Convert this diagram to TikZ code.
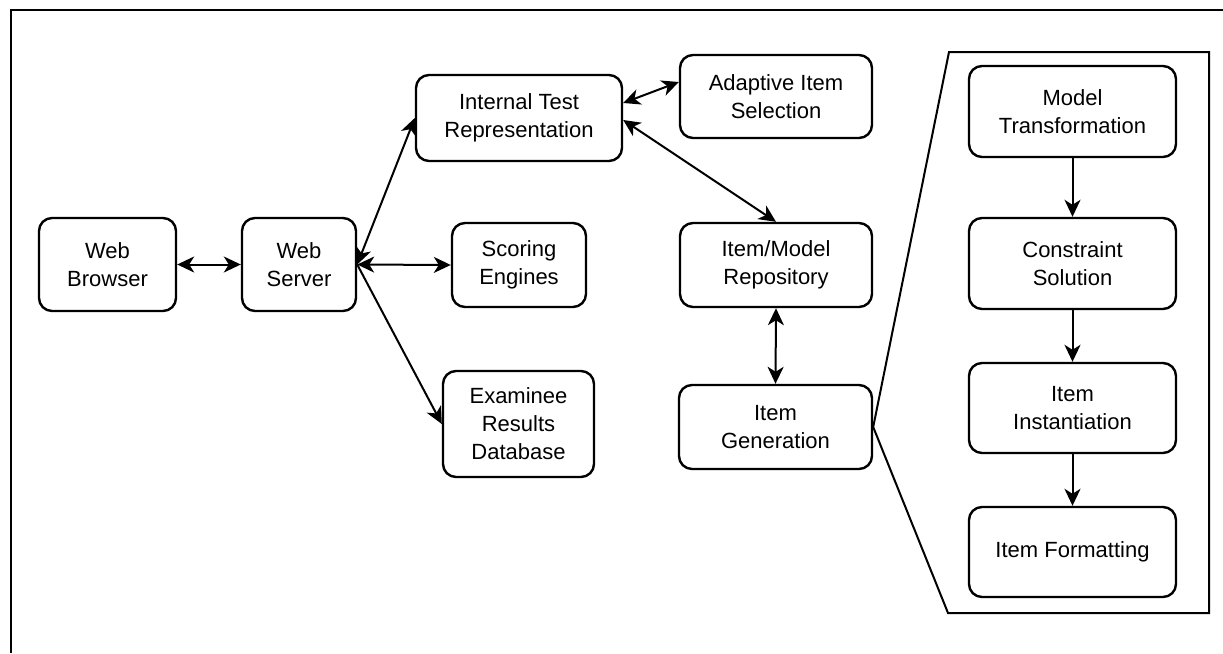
\documentclass[tikz,border=0pt]{standalone}
\usepackage{fontspec}
\setmainfont{Liberation Sans}
\usetikzlibrary{arrows.meta,calc}
\tikzset{
  box/.style={draw,line width=2.4pt,rounded corners=13pt,align=center,inner sep=0pt,
    font=\fontsize{22pt}{28pt}\selectfont},
  tip/.tip={Stealth[length=17pt,width=16pt,inset=5pt]},
  conn/.style={line width=2pt,-tip},
  dconn/.style={line width=2pt,tip-tip},
  frame/.style={line width=2.5pt},
  zoomline/.style={line width=2pt,line join=miter}
}
\begin{document}
\begin{tikzpicture}[x=1pt,y=-1pt]
\useasboundingbox (0,0) rectangle (1223,653);
\draw[frame] (11,653) -- (11,10) -- (1223,10);
% left part
\node[box,minimum width=137pt,minimum height=93pt] (wb) at (107.5,264.5) {Web\\Browser};
\node[box,minimum width=114pt,minimum height=93pt] (ws) at (299,264.5) {Web\\Server};
\node[box,minimum width=206pt,minimum height=86pt] (itr) at (519,118) {Internal Test\\Representation};
\node[box,minimum width=134pt,minimum height=84pt] (se) at (519,265) {Scoring\\Engines};
\node[box,minimum width=151pt,minimum height=106pt] (erd) at (518.5,424) {Examinee\\Results\\Database};
\node[box,minimum width=192pt,minimum height=83pt] (ais) at (776,96.5) {Adaptive Item\\Selection};
\node[box,minimum width=192pt,minimum height=84pt] (imr) at (776,265) {Item/Model\\Repository};
\node[box,minimum width=193pt,minimum height=84pt] (ig) at (775.5,427) {Item\\Generation};
% right part
\node[box,minimum width=207pt,minimum height=91pt] (mt) at (1072.5,111.5) {Model\\Transformation};
\node[box,minimum width=207pt,minimum height=91pt] (cs) at (1072.5,263.5) {Constraint\\Solution};
\node[box,minimum width=207pt,minimum height=90pt] (ii) at (1072.5,408) {Item\\Instantiation};
\node[box,minimum width=207pt,minimum height=90pt] (if) at (1072.5,552) {Item Formatting};
% zoom polygon
\coordinate (p1) at (949,52);
\coordinate (p2) at (1209,52);
\coordinate (p3) at (1209,613);
\coordinate (p4) at (948,613);
\draw[zoomline] (ig.east) -- (p1) -- (p2) -- (p3) -- (p4) -- cycle;
% connectors
\draw[dconn] (wb.east) -- (ws.west);
\draw[dconn] (ws.east) -- (itr.west);
\draw[dconn] (ws.east) -- (se.west);
\draw[conn] (ws.east) -- (erd.west);
\draw[dconn] ([yshift=15pt]itr.east) -- ([yshift=14.5pt]ais.west);
\draw[dconn] ([yshift=-2pt]itr.east) -- (imr.north);
\draw[dconn] (imr.south) -- (ig.north);
\draw[conn] (mt.south) -- (cs.north);
\draw[conn] (cs.south) -- (ii.north);
\draw[conn] (ii.south) -- (if.north);
\end{tikzpicture}
\end{document}
